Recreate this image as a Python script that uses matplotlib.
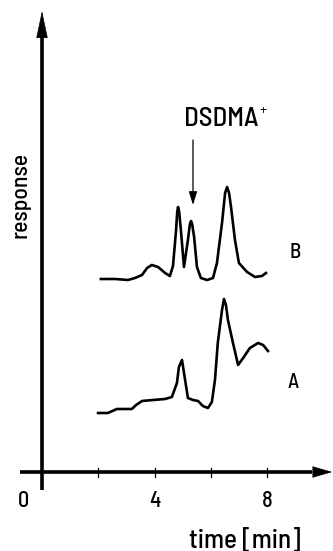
import matplotlib
matplotlib.use("Agg")
import matplotlib.pyplot as plt

# chromatogram traces (time in min, response in arbitrary units)
time_a = [1.99, 2.34, 2.66, 3.19, 3.34, 3.55, 3.94, 4.37, 4.61, 4.79, 4.86, 4.97,
          5.08, 5.18, 5.36, 5.54, 5.71, 5.89, 6.03, 6.14, 6.24, 6.39, 6.46, 6.53,
          6.60, 6.78, 6.96, 7.14, 7.38, 7.67, 7.85, 8.02]
resp_a = [5.9, 5.9, 6.3, 6.3, 6.7, 7.1, 7.2, 7.3, 7.5, 8.9, 10.5, 11.2,
          9.2, 7.4, 7.2, 7.1, 6.6, 6.4, 7.0, 9.2, 12.9, 16.2, 17.3, 16.7,
          15.2, 12.9, 10.7, 11.4, 12.4, 12.9, 12.7, 12.1]

time_b = [2.09, 2.59, 3.05, 3.30, 3.55, 3.73, 3.90, 4.12, 4.37, 4.54, 4.65, 4.76,
          4.80, 4.83, 4.87, 4.93, 5.04, 5.18, 5.25, 5.29, 5.33, 5.40, 5.50, 5.64,
          5.86, 6.07, 6.21, 6.39, 6.50, 6.57, 6.64, 6.71, 6.85, 6.99, 7.28, 7.56,
          7.81, 7.95]
resp_b = [19.3, 19.3, 19.2, 19.4, 19.7, 20.4, 20.7, 20.5, 19.9, 19.6, 20.6, 24.2,
          26.0, 26.5, 26.0, 24.2, 20.5, 23.2, 24.8, 25.1, 24.8, 23.5, 20.5, 19.4,
          19.2, 19.4, 20.9, 24.9, 27.9, 28.5, 27.9, 26.5, 23.2, 20.9, 20.0, 19.5,
          19.6, 19.9]

tick_pos = [2, 4, 6, 8]
tick_labels = ["0", "4", "8"]
tick_label_pos = [0, 4, 8]

marker_time = 5.36          # DSDMA+ peak marked by the arrow
trace_names = ["A", "B"]

plt.rcParams['font.family'] = ['Barlow Semi Condensed', 'DejaVu Sans']

fig = plt.figure(figsize=(3.33, 5.51), dpi=100)
ax = fig.add_axes([0, 0, 1, 1])
ax.set_xlim(-42 / 28.17, 291 / 28.17)
ax.set_ylim(-7.9, 47.2)
ax.axis('off')

# traces
ax.plot(time_a, resp_a, color='black', lw=1.9, solid_joinstyle='round')
ax.plot(time_b, resp_b, color='black', lw=1.9, solid_joinstyle='round')

# axes drawn by hand with arrows
ax.plot([0, 0], [-1.8, 44], color='black', lw=2.6, solid_capstyle='butt')
ax.annotate('', xy=(0, 46.1), xytext=(0, 43.0),
            arrowprops=dict(arrowstyle='-|>,head_length=1.8,head_width=0.38',
                            color='black', lw=0.5, shrinkA=0, shrinkB=0))
ax.plot([-0.78, 9.6], [0, 0], color='black', lw=2.6, solid_capstyle='butt')
ax.annotate('', xy=(10.3, 0), xytext=(9.4, 0),
            arrowprops=dict(arrowstyle='-|>,head_length=1.3,head_width=0.38',
                            color='black', lw=0.5, shrinkA=0, shrinkB=0))

for t in tick_pos:
    ax.plot([t, t], [0.45, -0.5], color='black', lw=0.9)

for lab, t in zip(tick_labels, tick_label_pos):
    xt = t - 0.66 if t == 0 else t
    ax.text(xt, -2.9, lab, ha='center', va='center', fontsize=16,
            fontweight='medium')

ax.text(7.21, -6.8, "time [min]", ha='center', va='center', fontsize=19.5,
        fontweight='medium')
ax.text(-0.78, 27.7, "response", ha='center', va='center', fontsize=17,
        fontweight='medium', rotation=90)

# trace labels
ax.text(8.93, 8.9, trace_names[0], ha='center', va='center', fontsize=15,
        fontweight='medium')
ax.text(8.98, 21.9, trace_names[1], ha='center', va='center', fontsize=15,
        fontweight='medium')

# DSDMA+ marker
ax.annotate('', xy=(marker_time, 26.7), xytext=(marker_time, 33.2),
            arrowprops=dict(arrowstyle='-|>,head_length=0.8,head_width=0.25',
                            color='black', lw=0.9, shrinkA=0, shrinkB=0))
ax.text(6.37, 35.3, "DSDMA", ha='center', va='center', fontsize=19.5,
        fontweight='medium')
ax.text(7.86, 36.1, "+", ha='center', va='center', fontsize=11)

fig.savefig('out.png', dpi=100)
